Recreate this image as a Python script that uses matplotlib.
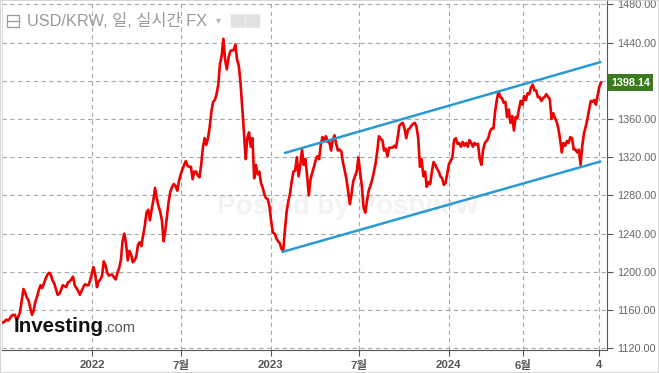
import matplotlib
matplotlib.use('Agg')
import matplotlib.pyplot as plt
import pandas as pd
from matplotlib.patches import Rectangle, FancyBboxPatch

# 한글 표시용 폰트 (라틴 문자는 Liberation Sans)
plt.rcParams['font.family'] = ['Liberation Sans', 'Noto Sans CJK KR']

# 종가, 2021-07-02 부터 3.5일 간격
start_date = '2021-07-02'
usdkrw = [1147, 1148, 1150, 1149, 1151, 1154, 1155, 1155, 1150, 1153,
          1158, 1170, 1182, 1178, 1173, 1170, 1162, 1155, 1160, 1169,
          1174, 1181, 1186, 1183, 1188, 1193, 1197, 1199, 1197, 1191,
          1188, 1182, 1176, 1177, 1181, 1186, 1185, 1184, 1189, 1190,
          1192, 1195, 1186, 1183, 1180, 1176, 1180, 1184, 1187, 1186,
          1186, 1191, 1198, 1205, 1197, 1184, 1190, 1192, 1196, 1211,
          1207, 1199, 1196, 1197, 1197, 1194, 1192, 1199, 1204, 1212,
          1232, 1240, 1230, 1212, 1222, 1218, 1210, 1212, 1216, 1228,
          1231, 1227, 1238, 1248, 1262, 1265, 1254, 1265, 1275, 1288,
          1277, 1269, 1263, 1254, 1232, 1243, 1259, 1274, 1284, 1289,
          1292, 1290, 1285, 1295, 1302, 1307, 1312, 1316, 1311, 1310,
          1310, 1297, 1305, 1305, 1301, 1299, 1312, 1330, 1340, 1333,
          1340, 1352, 1368, 1378, 1380, 1386, 1396, 1418, 1426, 1444,
          1422, 1412, 1424, 1431, 1432, 1432, 1438, 1422, 1416, 1398,
          1372, 1347, 1318, 1340, 1346, 1331, 1340, 1298, 1312, 1302,
          1305, 1293, 1288, 1281, 1277, 1276, 1268, 1252, 1241, 1240,
          1235, 1232, 1230, 1224, 1222, 1244, 1263, 1274, 1282, 1295,
          1305, 1306, 1320, 1300, 1312, 1328, 1312, 1318, 1300, 1280,
          1297, 1304, 1310, 1317, 1321, 1318, 1333, 1341, 1337, 1342,
          1336, 1336, 1327, 1338, 1343, 1334, 1327, 1328, 1326, 1314,
          1306, 1297, 1284, 1271, 1282, 1295, 1300, 1305, 1320, 1304,
          1290, 1268, 1262, 1274, 1285, 1290, 1296, 1304, 1313, 1326,
          1342, 1339, 1338, 1327, 1329, 1321, 1330, 1330, 1330, 1332,
          1330, 1341, 1353, 1355, 1356, 1350, 1340, 1349, 1350, 1353,
          1355, 1356, 1352, 1340, 1310, 1318, 1300, 1305, 1289, 1294,
          1292, 1305, 1315, 1312, 1308, 1305, 1300, 1298, 1291, 1293,
          1303, 1313, 1316, 1320, 1338, 1340, 1334, 1335, 1331, 1336,
          1332, 1335, 1331, 1338, 1335, 1331, 1335, 1333, 1334, 1318,
          1312, 1328, 1335, 1337, 1340, 1347, 1350, 1350, 1368, 1380,
          1389, 1383, 1382, 1377, 1378, 1362, 1370, 1356, 1363, 1348,
          1362, 1361, 1371, 1379, 1375, 1384, 1380, 1387, 1386, 1393,
          1396, 1390, 1390, 1383, 1383, 1379, 1382, 1383, 1386, 1383,
          1381, 1360, 1366, 1361, 1357, 1350, 1339, 1325, 1335, 1332,
          1337, 1335, 1341, 1340, 1328, 1328, 1325, 1328, 1312, 1332,
          1345, 1352, 1360, 1370, 1379, 1378, 1380, 1375, 1385, 1394,
          1398.14]
last_price = usdkrw[-1]

# 추세 채널 (시작, 끝)
upper_dates = ['2023-01-31', '2024-11-06']
upper_vals = [1324.6, 1419.5]
lower_dates = ['2023-01-26', '2024-11-06']
lower_vals = [1221, 1315.4]

# x축 눈금
tick_dates = ['2022-01-01', '2022-07-01', '2023-01-01', '2023-07-01',
              '2024-01-01', '2024-06-01', '2024-11-04']
tick_labels = ['2022', '7월', '2023', '7월', '2024', '6월', '4']
yticks = [1120, 1160, 1200, 1240, 1280, 1320, 1360, 1400, 1440, 1480]

dates = pd.date_range(start_date, periods=len(usdkrw), freq='84h')

fig = plt.figure(figsize=(6.59, 3.73), dpi=100)
ax = fig.add_axes([0.003, 0.0617, 0.918, 0.938])

# 워터마크
ax.text(0.355, 0.39, 'Posted by Postview', transform=ax.transAxes,
        fontsize=20, color='#f3f3f3', fontweight='bold', zorder=0)

ax.plot(dates, usdkrw, color='#ee0000', lw=1.9, zorder=3)
ax.plot(pd.to_datetime(upper_dates), upper_vals, color='#2a9ad0', lw=1.8, zorder=4)
ax.plot(pd.to_datetime(lower_dates), lower_vals, color='#2a9ad0', lw=1.8, zorder=4)

ax.set_xlim(pd.Timestamp('2021-06-30'), pd.Timestamp('2024-11-20'))
ax.set_ylim(1118.2, 1484.5)

ax.set_xticks(pd.to_datetime(tick_dates))
ax.set_xticklabels(tick_labels)
ax.set_yticks(yticks)
# 1400 라벨은 현재가 라벨에 가려짐
ax.set_yticklabels(['' if v == 1400 else '%.2f' % v for v in yticks])
ax.yaxis.tick_right()

ax.grid(True, ls=(0, (4, 3)), color='#a8a8a8', lw=0.8)
ax.set_axisbelow(True)

ax.spines['top'].set_visible(False)
ax.spines['left'].set_color('#dddddd')
ax.spines['right'].set_color('#555555')
ax.spines['bottom'].set_color('#555555')
ax.tick_params(axis='x', colors='#555555', labelsize=8.2, length=4, pad=3)
ax.tick_params(axis='y', colors='#555555', labelsize=7.8, length=4, pad=3)
for lb in ax.get_xticklabels():
    lb.set_fontweight('bold')
    lb.set_color('#555555')
for lb in ax.get_yticklabels():
    lb.set_color('#666666')

# 현재가 라벨
ax.annotate('%.2f' % last_price, xy=(1.0, last_price),
            xycoords=('axes fraction', 'data'), xytext=(3, 0),
            textcoords='offset points', ha='left', va='center',
            fontsize=7.8, fontweight='bold', color='white',
            bbox=dict(boxstyle='square,pad=0.3', fc='#3b7a1e', ec='none'),
            annotation_clip=False, zorder=6)

# 제목
fig.text(27 / 659, 1 - 21 / 373, 'USD/KRW, 일, 실시간 FX', fontsize=11.8,
         color='#9a9a9a', va='center', ha='left')
fig.patches.append(Rectangle((7 / 659, 1 - 27 / 373), 12 / 659, 12 / 373,
                             transform=fig.transFigure, fill=False,
                             ec='#9a9a9a', lw=0.9))
fig.lines.append(plt.Line2D([7 / 659, 19 / 659], [1 - 21 / 373, 1 - 21 / 373],
                            transform=fig.transFigure, color='#9a9a9a', lw=0.9))
fig.text(218 / 659, 1 - 20 / 373, '▾', fontsize=7, color='#b0b0b0',
         va='center', ha='center', family='DejaVu Sans')
for xx in [232, 247]:
    fig.patches.append(FancyBboxPatch((xx / 659, 1 - 27 / 373), 12 / 659, 12 / 373,
                                      boxstyle='round,pad=0.002',
                                      transform=fig.transFigure,
                                      fc='#e2e2e2', ec='none'))

# Investing.com 로고
fig.text(14 / 659, 1 - 332 / 373, 'Investing', fontsize=14.8, fontweight='bold',
         color='#111111', va='baseline', ha='left')
fig.text(104 / 659, 1 - 332 / 373, '.com', fontsize=10.6,
         color='#555555', va='baseline', ha='left')

# 테두리
fig.patches.append(Rectangle((0, 0), 1, 1, transform=fig.transFigure,
                             fill=False, ec='#d0d0d0', lw=1.2))

fig.savefig('out.png', dpi=100)
